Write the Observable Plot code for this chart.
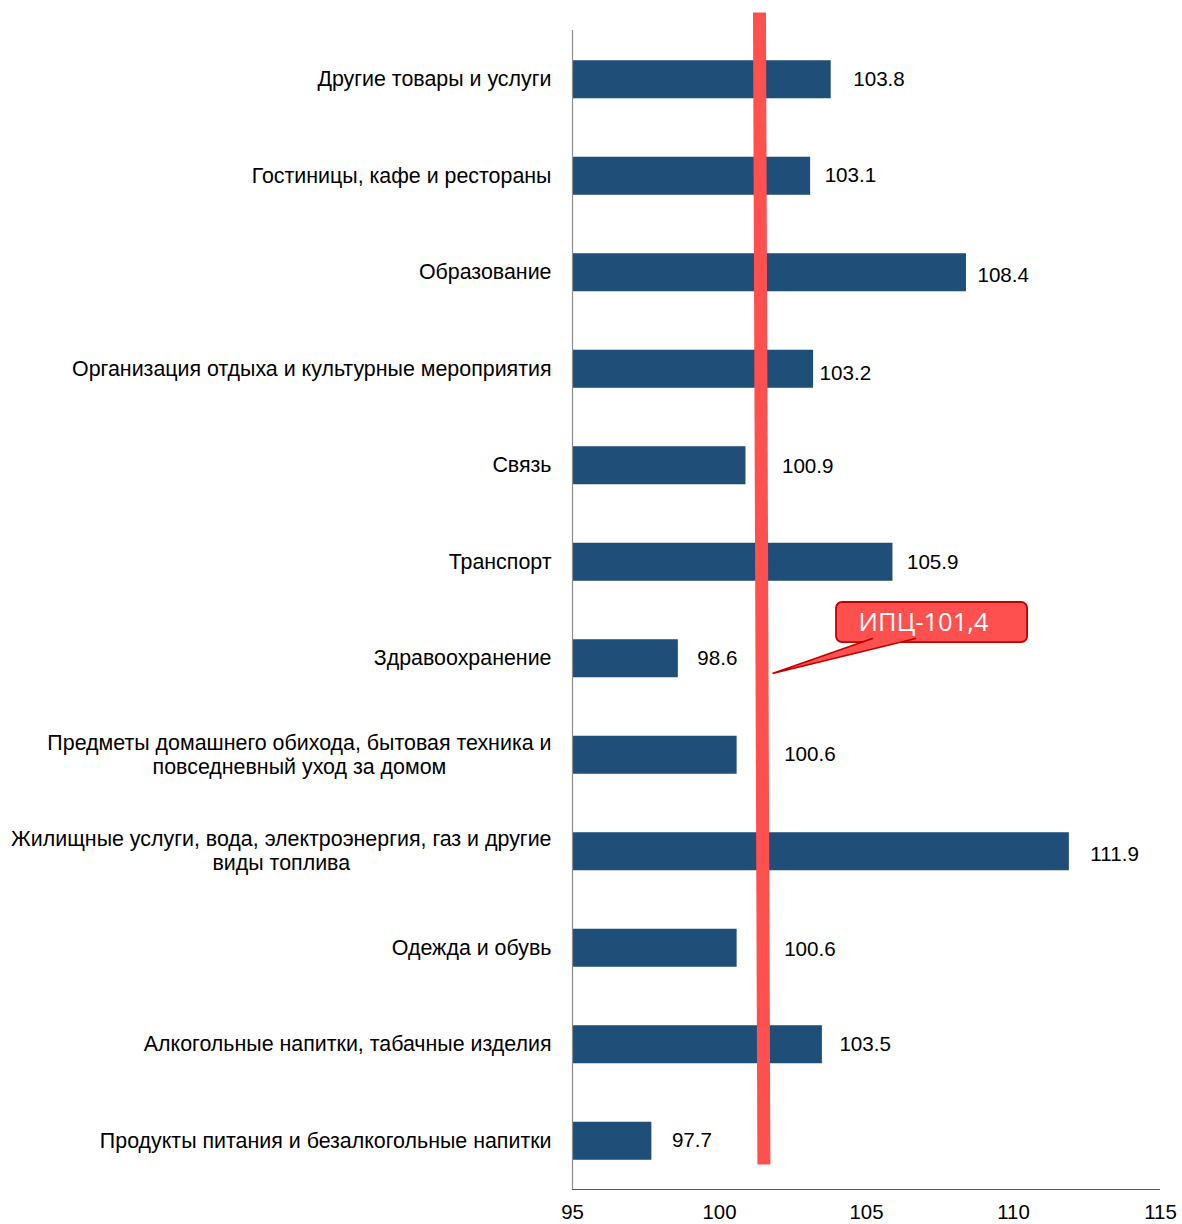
<!DOCTYPE html>
<html><head><meta charset="utf-8">
<script src="https://cdn.jsdelivr.net/npm/d3@7"></script>
<script src="https://cdn.jsdelivr.net/npm/@observablehq/plot@0.6"></script>
<style>body{margin:0;background:#fff} #chart svg{display:block}</style>
</head><body><div id="chart"></div>
<script>
const categories = [
  "Другие товары и услуги",
  "Гостиницы, кафе и рестораны",
  "Образование",
  "Организация отдыха и культурные мероприятия",
  "Связь",
  "Транспорт",
  "Здравоохранение",
  "Предметы домашнего обихода, бытовая техника и\nповседневный уход за домом",
  "Жилищные услуги, вода, электроэнергия, газ и другие\nвиды топлива",
  "Одежда и обувь",
  "Алкогольные напитки, табачные изделия",
  "Продукты питания и безалкогольные напитки"
];
const values = [103.8, 103.1, 108.4, 103.2, 100.9, 105.9, 98.6, 100.6, 111.9, 100.6, 103.5, 97.7];
const xTicks = [95, 100, 105, 110, 115];
const cpi = 101.4;
const cpiLabel = "ИПЦ-101,4";
const cpiCategory = 6; // callout sits next to "Здравоохранение"

// label offsets (px), as hand-placed in the original
const labelDx = [22, 14, 11, 6, 36, 14, 19, 47, 21, 47, 17, 20];
const labelDy = [0, -1, 3, 4, 1, 0, 0, -1, 3, 1, 0, -1];

const data = categories.map((c, i) => ({i, category: c, value: values[i]}));

const FONT = "'Liberation Sans', Arial, sans-serif";
const CAT_SIZE = 21.4;
const ctx = document.createElement("canvas").getContext("2d");
ctx.font = `${CAT_SIZE}px 'Liberation Sans'`;
const maxLineWidth = s => Math.max(...s.split("\n").map(l => ctx.measureText(l).width));

const BAR = "#1F4E79";
const RED = "#FF5050";
const DARKRED = "#C00000";
const halfBar = 0.197;

const labelMarks = data.map(d => Plot.text([d], {
  x: () => xTicks[0], y: "i", text: "category",
  textAnchor: "middle", lineAnchor: "middle", lineHeight: 24 / CAT_SIZE,
  dx: -21 - maxLineWidth(d.category) / 2, dy: -1,
  fontSize: CAT_SIZE, fill: "#000"
}));

const valueMarks = data.map(d => Plot.text([d], {
  x: "value", y: "i", text: d => d.value.toFixed(1),
  textAnchor: "start", lineAnchor: "middle",
  dx: labelDx[d.i], dy: labelDy[d.i], fontSize: 20.6, fill: "#000"
}));

const c = cpiCategory;
const pointer = [
  {x: cpi + 3.8, y: c - 0.21},
  {x: cpi + 0.4, y: c + 0.153},
  {x: cpi + 5.27, y: c - 0.21}
];

const chart = Plot.plot({
  width: 1182, height: 1224,
  marginLeft: 572, marginRight: 22, marginTop: 31, marginBottom: 35,
  style: {fontFamily: FONT, fontSize: "20px", background: "#fff", color: "#000"},
  x: {domain: [xTicks[0], xTicks[xTicks.length - 1]]},
  y: {domain: [categories.length - 0.5, -0.5], axis: null},
  marks: [
    Plot.rect(data, {
      x1: () => xTicks[0], x2: "value",
      y1: d => d.i - halfBar, y2: d => d.i + halfBar, fill: BAR
    }),
    Plot.ruleX([xTicks[0]], {y1: () => -0.51, y2: () => categories.length - 0.5, stroke: "#8c8c8c", strokeWidth: 1.2}),
    Plot.ruleY([categories.length - 0.5], {x1: () => xTicks[0], x2: () => xTicks[xTicks.length - 1], stroke: "#555", strokeWidth: 1.2}),
    Plot.axisX({ticks: xTicks, tickSize: 0, tickPadding: 15, fontSize: 20.4, tickFormat: d => String(d)}),
    ...labelMarks,
    ...valueMarks,
    Plot.link([cpi], {
      x1: d => d - 0.04, y1: () => -0.697,
      x2: d => d + 0.11, y2: () => categories.length - 0.76,
      stroke: RED, strokeWidth: 13, strokeLinecap: "butt"
    }),
    Plot.rect([cpi], {
      x1: d => d + 2.58, x2: d => d + 9.08,
      y1: () => c - 0.583, y2: () => c - 0.168,
      fill: RED, stroke: DARKRED, strokeWidth: 1.8, rx: 6
    }),
    Plot.line(pointer, {x: "x", y: "y", fill: RED, stroke: DARKRED, strokeWidth: 1.6, strokeLinejoin: "miter"}),
    Plot.text([cpiLabel], {
      x: () => cpi + 5.54, y: () => c - 0.37, text: d => d,
      fill: "#fff", fontSize: 25.5, fontFamily: "'Open Sans', sans-serif",
      textAnchor: "middle", lineAnchor: "middle"
    })
  ]
});
document.getElementById("chart").appendChild(chart);
</script>
</body></html>
